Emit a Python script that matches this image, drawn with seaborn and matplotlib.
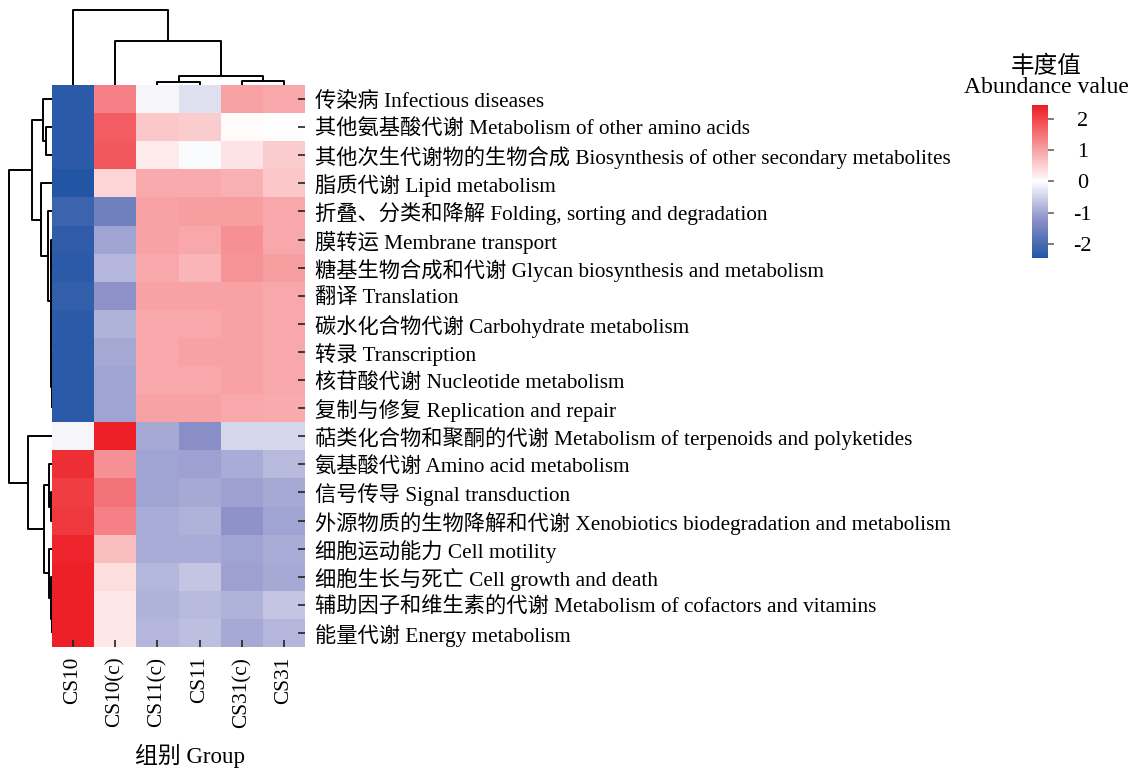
import numpy as np
import pandas as pd
import matplotlib
matplotlib.use("Agg")
import matplotlib.pyplot as plt
import seaborn as sns
from matplotlib.colors import LinearSegmentedColormap

# samples (columns) and pathways (rows), in the order shown
groups = ["CS10", "CS10(c)", "CS11(c)", "CS11", "CS31(c)", "CS31"]
pathways = [
    "传染病 Infectious diseases",
    "其他氨基酸代谢 Metabolism of other amino acids",
    "其他次生代谢物的生物合成 Biosynthesis of other secondary metabolites",
    "脂质代谢 Lipid metabolism",
    "折叠、分类和降解 Folding, sorting and degradation",
    "膜转运 Membrane transport",
    "糖基生物合成和代谢 Glycan biosynthesis and metabolism",
    "翻译 Translation",
    "碳水化合物代谢 Carbohydrate metabolism",
    "转录 Transcription",
    "核苷酸代谢 Nucleotide metabolism",
    "复制与修复 Replication and repair",
    "萜类化合物和聚酮的代谢 Metabolism of terpenoids and polyketides",
    "氨基酸代谢 Amino acid metabolism",
    "信号传导 Signal transduction",
    "外源物质的生物降解和代谢 Xenobiotics biodegradation and metabolism",
    "细胞运动能力 Cell motility",
    "细胞生长与死亡 Cell growth and death",
    "辅助因子和维生素的代谢 Metabolism of cofactors and vitamins",
    "能量代谢 Energy metabolism",
]

# abundance (row-scaled) per group
cs10 = [-2.35, -2.35, -2.35, -2.45, -2.15, -2.3, -2.35, -2.25, -2.35, -2.35,
        -2.35, -2.35, -0.1, 2.25, 2.1, 2.15, 2.35, 2.4, 2.4, 2.4]
cs10c = [1.35, 1.75, 1.8, 0.45, -1.55, -1.0, -0.8, -1.2, -0.85, -0.95,
         -1.0, -1.0, 2.4, 1.2, 1.5, 1.35, 0.7, 0.35, 0.25, 0.25]
cs11c = [-0.1, 0.6, 0.2, 0.9, 1.0, 1.0, 0.95, 1.0, 0.95, 0.95,
         0.95, 1.0, -0.95, -1.0, -1.0, -0.9, -0.9, -0.8, -0.85, -0.8]
cs11 = [-0.35, 0.55, -0.05, 0.9, 1.05, 0.95, 0.8, 1.0, 0.95, 1.0,
        0.95, 1.0, -1.25, -1.05, -0.95, -0.85, -0.9, -0.65, -0.75, -0.7]
cs31c = [1.0, 0.05, 0.3, 0.85, 1.05, 1.2, 1.15, 1.0, 1.0, 1.0,
         1.0, 0.95, -0.45, -0.9, -1.05, -1.2, -1.0, -1.05, -0.85, -0.95]
cs31 = [0.95, 0.0, 0.55, 0.6, 0.95, 0.95, 1.05, 0.95, 0.95, 0.95,
        0.95, 0.9, -0.45, -0.75, -0.95, -1.0, -0.9, -0.95, -0.65, -0.8]

# cluster trees: (left, right, height, size)
col_tree = [
    [2, 3, 3.0, 2],
    [4, 5, 4.0, 2],
    [6, 7, 9.0, 4],
    [1, 8, 44.0, 5],
    [0, 9, 75.0, 6],
]
row_tree = [
    [1, 2, 6.0, 2],      # 20
    [0, 20, 9.3, 3],     # 21
    [9, 10, 0.3, 2],     # 22
    [22, 11, 0.5, 3],    # 23
    [7, 8, 0.4, 2],      # 24
    [24, 23, 0.7, 5],    # 25
    [5, 6, 0.6, 2],      # 26
    [26, 25, 1.3, 7],    # 27
    [4, 27, 3.7, 8],     # 28
    [3, 28, 11.3, 9],    # 29
    [21, 29, 20.0, 12],  # 30
    [14, 15, 1.0, 2],    # 31
    [13, 31, 2.7, 3],    # 32
    [18, 19, 0.5, 2],    # 33
    [17, 33, 1.0, 3],    # 34
    [16, 34, 2.7, 4],    # 35
    [32, 35, 7.7, 7],    # 36
    [12, 36, 24.3, 8],   # 37
    [30, 37, 42.7, 20],  # 38
]

df = pd.DataFrame({"CS10": cs10, "CS10(c)": cs10c, "CS11(c)": cs11c,
                   "CS11": cs11, "CS31(c)": cs31c, "CS31": cs31},
                  index=pathways)[groups]

plt.rcParams["font.family"] = ["Liberation Serif", "Noto Sans CJK SC"]
plt.rcParams["axes.unicode_minus"] = False

cmap = LinearSegmentedColormap.from_list(
    "bwr2", [(0.0, "#2355A5"), (0.25, "#8C90C8"), (0.5, "#FFFFFF"),
             (1.0, "#ED1C24")])

g = sns.clustermap(df, row_linkage=np.array(row_tree, dtype=float),
                   col_linkage=np.array(col_tree, dtype=float),
                   cmap=cmap, vmin=-2.45, vmax=2.45,
                   figsize=(11.31, 7.69), xticklabels=True, yticklabels=True,
                   tree_kws={"linewidths": 1.4, "colors": "black"},
                   cbar_kws={"ticks": [-2, -1, 0, 1, 2]},
                   cbar_pos=(0.9125, 0.6645, 0.0141, 0.199))

fig = g.figure
fig.set_dpi(100)
hm = g.ax_heatmap
g.ax_heatmap.set_position([0.046, 0.1586, 0.2237, 0.7308])
g.ax_row_dendrogram.set_position([0.0062, 0.1586, 0.0398, 0.7308])
g.ax_col_dendrogram.set_position([0.046, 0.8895, 0.2237, 0.1027])
g.ax_cbar.set_position([0.9125, 0.6645, 0.0141, 0.199])

hm.set_ylabel("")
hm.set_xlabel("组别 Group", fontsize=16.5)
hm.xaxis.set_label_coords(0.545, -0.172)
hm.tick_params(axis="both", direction="in", length=5, width=1.2, color="#222222",
               labelsize=15.3, pad=7)
plt.setp(hm.get_xticklabels(), rotation=90)
plt.setp(hm.get_yticklabels(), rotation=0)

cb = g.ax_cbar
cb.tick_params(length=4, width=1.2, color="#666666", labelsize=16, pad=21)
plt.setp(cb.get_yticklabels(), ha="center")
for s in cb.spines.values():
    s.set_visible(False)
fig.text(1046 / 1131, 1 - 98 / 769, "丰度值\nAbundance value", ha="center",
         va="bottom", fontsize=17, linespacing=0.95)

fig.savefig("out.png", dpi=100)
